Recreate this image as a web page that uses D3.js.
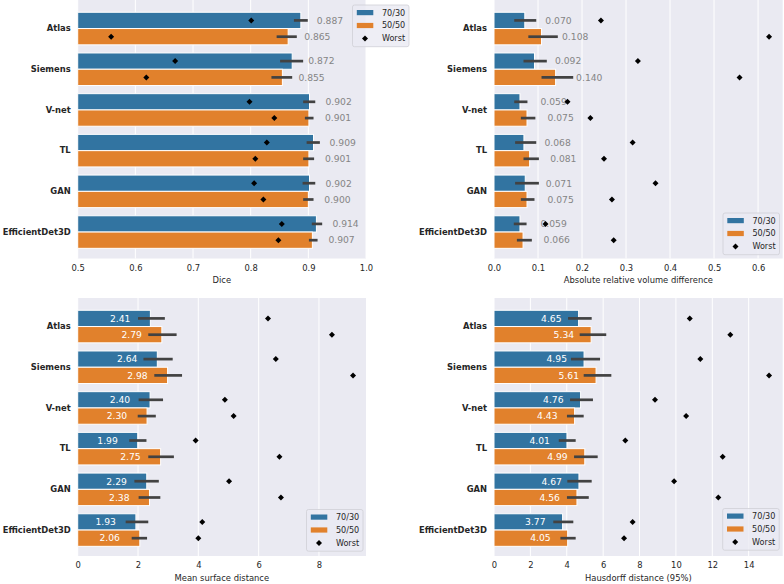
<!DOCTYPE html>
<html>
<head>
<meta charset="utf-8">
<script src="https://cdn.jsdelivr.net/npm/d3@7"></script>
<style>
  html, body { margin: 0; padding: 0; background: #ffffff; }
  svg { display: block; font-family: "DejaVu Sans", sans-serif; }
</style>
</head>
<body>
<svg id="chart" width="784" height="584"></svg>
<script>
// ---------------- DATA ----------------
const categories = ["Atlas", "Siemens", "V-net", "TL", "GAN", "EfficientDet3D"];
const series = ["70/30", "50/50"];
const worstLabel = "Worst";

// Dice
const dice7030 = [0.887, 0.872, 0.902, 0.909, 0.902, 0.914];
const dice5050 = [0.865, 0.855, 0.901, 0.901, 0.900, 0.907];
const diceLo7030 = [0.875, 0.851, 0.891, 0.897, 0.890, 0.906];
const diceHi7030 = [0.899, 0.891, 0.912, 0.920, 0.912, 0.924];
const diceLo5050 = [0.845, 0.836, 0.894, 0.891, 0.891, 0.901];
const diceHi5050 = [0.880, 0.872, 0.909, 0.910, 0.909, 0.916];
const diceWorst7030 = [0.801, 0.669, 0.798, 0.828, 0.806, 0.854];
const diceWorst5050 = [0.558, 0.619, 0.841, 0.808, 0.822, 0.848];
const diceTicks = [0.5, 0.6, 0.7, 0.8, 0.9, 1.0];

// Absolute relative volume difference
const arvd7030 = [0.070, 0.092, 0.059, 0.068, 0.071, 0.059];
const arvd5050 = [0.108, 0.140, 0.075, 0.081, 0.075, 0.066];
const arvdLo7030 = [0.046, 0.067, 0.046, 0.048, 0.048, 0.045];
const arvdHi7030 = [0.096, 0.120, 0.076, 0.096, 0.102, 0.074];
const arvdLo5050 = [0.078, 0.108, 0.061, 0.067, 0.061, 0.052];
const arvdHi5050 = [0.145, 0.180, 0.094, 0.102, 0.092, 0.086];
const arvdWorst7030 = [0.243, 0.327, 0.167, 0.315, 0.367, 0.117];
const arvdWorst5050 = [0.625, 0.558, 0.219, 0.250, 0.268, 0.272];
const arvdTicks = [0.0, 0.1, 0.2, 0.3, 0.4, 0.5, 0.6];

// Mean surface distance
const msd7030 = [2.41, 2.64, 2.40, 1.99, 2.29, 1.93];
const msd5050 = [2.79, 2.98, 2.30, 2.75, 2.38, 2.06];
const msdLo7030 = [2.00, 2.18, 2.02, 1.71, 1.88, 1.59];
const msdHi7030 = [2.89, 3.15, 2.83, 2.28, 2.69, 2.34];
const msdLo5050 = [2.34, 2.54, 1.99, 2.34, 2.02, 1.79];
const msdHi5050 = [3.28, 3.46, 2.59, 3.19, 2.74, 2.30];
const msdWorst7030 = [6.31, 6.57, 4.88, 3.91, 5.02, 4.13];
const msdWorst5050 = [8.43, 9.13, 5.17, 6.69, 6.74, 4.00];
const msdTicks = [0, 2, 4, 6, 8];

// Hausdorff distance (95%)
const hd7030 = [4.65, 4.95, 4.76, 4.01, 4.67, 3.77];
const hd5050 = [5.34, 5.61, 4.43, 4.99, 4.56, 4.05];
const hdLo7030 = [4.07, 4.23, 4.18, 3.56, 4.03, 3.26];
const hdHi7030 = [5.37, 5.83, 5.44, 4.49, 5.37, 4.36];
const hdLo5050 = [4.71, 4.93, 4.01, 4.40, 4.01, 3.65];
const hdHi5050 = [6.17, 6.45, 4.93, 5.70, 5.21, 4.49];
const hdWorst7030 = [10.76, 11.34, 8.85, 7.22, 9.90, 7.62];
const hdWorst5050 = [12.99, 15.12, 10.56, 12.57, 12.33, 7.15];
const hdTicks = [0, 2, 4, 6, 8, 10, 12, 14];

// ---------------- STYLE ----------------
const colors = { "70/30": "#3274a1", "50/50": "#e1812c" };
const bgColor = "#eaeaf2";
const textColor = "#262626";
const errColor = "#424242";

const svg = d3.select("#chart");
svg.append("rect").attr("width", 784).attr("height", 584).attr("fill", "#ffffff");

function buildRows(vals) {
  return categories.map((c, i) => ({
    cat: c,
    bars: [
      { s: "70/30", v: vals.m7[i], lo: vals.lo7[i], hi: vals.hi7[i], w: vals.w7[i] },
      { s: "50/50", v: vals.m5[i], lo: vals.lo5[i], hi: vals.hi5[i], w: vals.w5[i] }
    ]
  }));
}

const panels = [
  { left: 77.7, right: 366, top: 0, bottom: 258.5, domain: [0.5, 1.0], ticks: diceTicks, tickFmt: d3.format(".1f"),
    label: "Dice", valFmt: d3.format(".3f"), mode: "outside", labelShift: 16,
    legend: { x: 352.5, y: 5 },
    data: buildRows({ m7: dice7030, m5: dice5050, lo7: diceLo7030, hi7: diceHi7030, lo5: diceLo5050, hi5: diceHi5050, w7: diceWorst7030, w5: diceWorst5050 }) },
  { left: 494, right: 782.7, top: 0, bottom: 258.5, domain: [0, 0.656], ticks: arvdTicks, tickFmt: d3.format(".1f"),
    label: "Absolute relative volume difference", valFmt: d3.format(".3f"), mode: "outside", labelShift: 20.5,
    legend: { x: 723, y: 213 },
    data: buildRows({ m7: arvd7030, m5: arvd5050, lo7: arvdLo7030, hi7: arvdHi7030, lo5: arvdLo5050, hi5: arvdHi5050, w7: arvdWorst7030, w5: arvdWorst5050 }) },
  { left: 77.7, right: 366, top: 298, bottom: 556, domain: [0, 9.56], ticks: msdTicks, tickFmt: d3.format("d"),
    label: "Mean surface distance", valFmt: d3.format(".2f"), mode: "inside", insideShift: 1.0,
    legend: { x: 306.5, y: 509.5 },
    data: buildRows({ m7: msd7030, m5: msd5050, lo7: msdLo7030, hi7: msdHi7030, lo5: msdLo5050, hi5: msdHi5050, w7: msdWorst7030, w5: msdWorst5050 }) },
  { left: 494, right: 782.7, top: 298, bottom: 556, domain: [0, 15.87], ticks: hdTicks, tickFmt: d3.format("d"),
    label: "Hausdorff distance (95%)", valFmt: d3.format(".2f"), mode: "inside", insideShift: 1.5,
    legend: { x: 722.7, y: 508.5 },
    data: buildRows({ m7: hd7030, m5: hd5050, lo7: hdLo7030, hi7: hdHi7030, lo5: hdLo5050, hi5: hdHi5050, w7: hdWorst7030, w5: hdWorst5050 }) }
];

const diamond = "M0,-3L3,0L0,3L-3,0Z";
const legendLayers = [];

panels.forEach(p => {
  const g = svg.append("g");
  const x = d3.scaleLinear().domain(p.domain).range([p.left, p.right]);
  const y = d3.scaleBand().domain(categories)
    .range([p.top + 8.2, p.top + 252.4]).paddingInner(0.2).paddingOuter(0.1);
  const sub = d3.scaleBand().domain(series).range([0, y.bandwidth()]);

  // background
  g.append("rect").attr("x", p.left).attr("y", p.top)
    .attr("width", p.right - p.left).attr("height", p.bottom - p.top).attr("fill", bgColor);

  // grid
  g.append("g").selectAll("line").data(p.ticks).join("line")
    .attr("x1", d => x(d)).attr("x2", d => x(d))
    .attr("y1", p.top).attr("y2", p.bottom)
    .attr("stroke", "#ffffff").attr("stroke-width", 1);

  const rows = g.append("g").selectAll("g.row").data(p.data).join("g")
    .attr("transform", d => `translate(0,${y(d.cat)})`);

  // bars
  rows.selectAll("rect.bar").data(d => d.bars).join("rect")
    .attr("class", "bar")
    .attr("x", x(p.domain[0]))
    .attr("y", d => sub(d.s))
    .attr("width", d => x(d.v) - x(p.domain[0]))
    .attr("height", sub.bandwidth())
    .attr("fill", d => colors[d.s])
    .attr("stroke", "#ffffff").attr("stroke-width", 1);

  // error bars
  rows.selectAll("line.err").data(d => d.bars).join("line")
    .attr("class", "err")
    .attr("x1", d => x(d.lo)).attr("x2", d => x(d.hi))
    .attr("y1", d => sub(d.s) + sub.bandwidth() / 2)
    .attr("y2", d => sub(d.s) + sub.bandwidth() / 2)
    .attr("stroke", errColor).attr("stroke-width", 2.7);

  // value labels
  rows.selectAll("text.val").data(d => d.bars).join("text")
    .attr("class", "val")
    .attr("x", d => p.mode === "inside" ? x(d.v - p.insideShift) : x(d.v) + p.labelShift)
    .attr("y", d => sub(d.s) + sub.bandwidth() / 2)
    .attr("dy", "0.36em")
    .attr("text-anchor", p.mode === "inside" ? "middle" : "start")
    .attr("font-size", "9.2px")
    .attr("fill", p.mode === "inside" ? "#ffffff" : "#858585")
    .text(d => p.valFmt(d.v));

  // worst markers
  rows.selectAll("path.worst").data(d => d.bars).join("path")
    .attr("class", "worst")
    .attr("d", diamond)
    .attr("transform", d => `translate(${x(d.w)},${sub(d.s) + sub.bandwidth() / 2})`)
    .attr("fill", "#000000");

  // x axis
  const xa = g.append("g").attr("transform", `translate(0,${p.bottom})`)
    .call(d3.axisBottom(x).tickValues(p.ticks).tickFormat(p.tickFmt).tickSize(0).tickPadding(6.5));
  xa.select(".domain").remove();
  xa.selectAll("text").attr("font-size", "8.4px").attr("fill", textColor)
    .attr("font-family", "DejaVu Sans");

  // y axis
  const ya = g.append("g").attr("transform", `translate(${p.left},0)`)
    .call(d3.axisLeft(y).tickSize(0).tickPadding(7));
  ya.select(".domain").remove();
  ya.selectAll("text").attr("font-size", "8.4px").attr("font-weight", "bold")
    .attr("fill", textColor).attr("font-family", "DejaVu Sans");

  // axis label
  g.append("text").attr("x", (p.left + p.right) / 2).attr("y", p.bottom + 24.5)
    .attr("text-anchor", "middle").attr("font-size", "8.4px").attr("fill", textColor)
    .text(p.label);

  legendLayers.push(p.legend);
});

// legends (drawn last, on top)
legendLayers.forEach(L => {
  const lg = svg.append("g").attr("transform", `translate(${L.x},${L.y})`);
  lg.append("rect").attr("width", 56.5).attr("height", 41.7).attr("rx", 2)
    .attr("fill", bgColor).attr("fill-opacity", 0.8)
    .attr("stroke", "#cfcfd6").attr("stroke-width", 0.8);
  const items = series.concat([worstLabel]);
  items.forEach((it, i) => {
    const cy = 7.6 + i * 12.9;
    if (colors[it]) {
      lg.append("rect").attr("x", 4.3).attr("y", cy - 2.6).attr("width", 16.5).attr("height", 5.2)
        .attr("fill", colors[it]);
    } else {
      lg.append("path").attr("d", diamond).attr("transform", `translate(12.5,${cy})`).attr("fill", "#000000");
    }
    lg.append("text").attr("x", 29.4).attr("y", cy).attr("dy", "0.36em")
      .attr("font-size", "8.1px").attr("fill", textColor).text(it);
  });
});
</script>
</body>
</html>
